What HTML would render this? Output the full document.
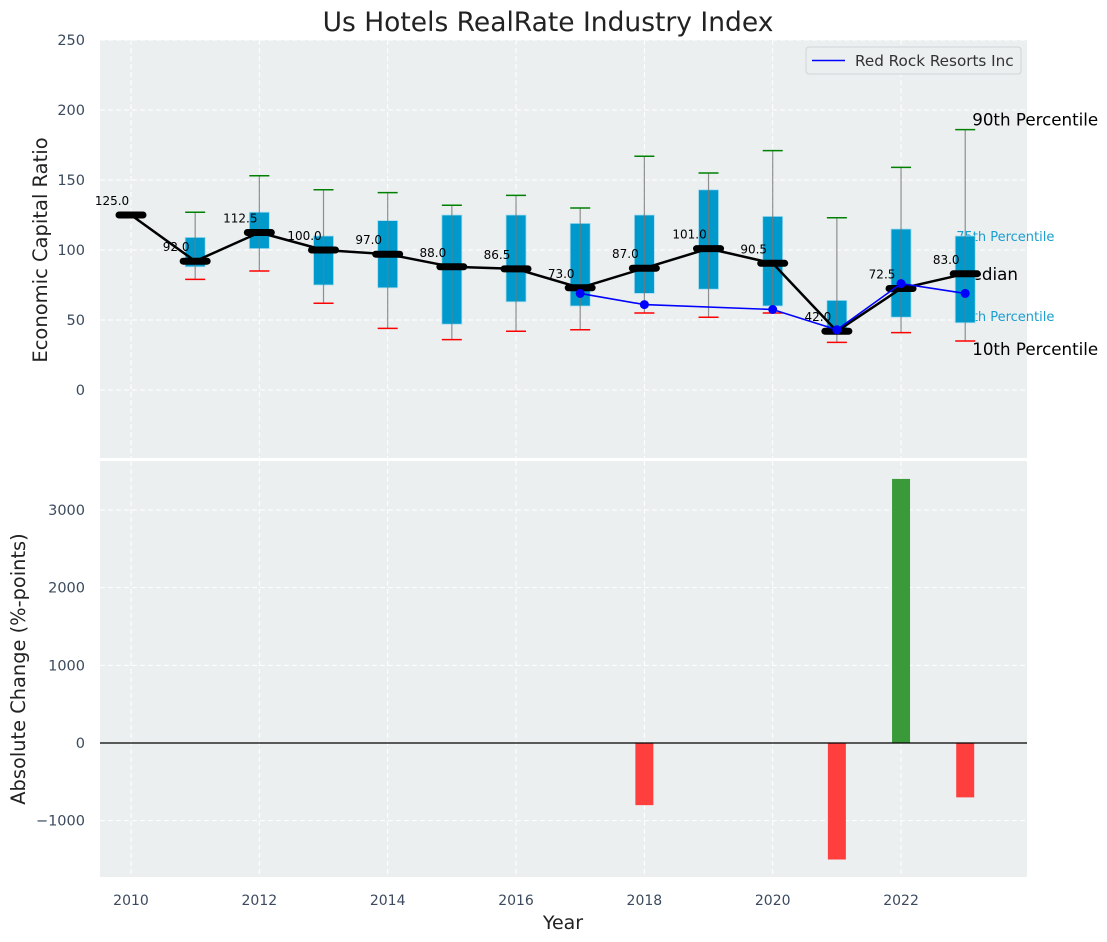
<!DOCTYPE html>
<html><head><meta charset="utf-8"><style>
body{margin:0;background:#fff;}
svg{display:block;font-family:"DejaVu Sans","Liberation Sans",sans-serif;}
</style></head><body>
<svg id="c" width="1107" height="942" xmlns="http://www.w3.org/2000/svg"></svg>
<script>
const years=[2010,2011,2012,2013,2014,2015,2016,2017,2018,2019,2020,2021,2022,2023];
const medians=[125,92,112.5,100,97,88,86.5,73,87,101,90.5,42,72.5,83];
const q1=[null,88,101,75,73,47,63,60,69,72,60,40,52,48];
const q3=[null,109,127,110,121,125,125,119,125,143,124,64,115,110];
const p10=[null,79,85,62,44,36,42,43,55,52,55,34,41,35];
const p90=[null,127,153,143,141,132,139,130,167,155,171,123,159,186];
const rrYears=[2017,2018,2020,2021,2022,2023];
const rrVals=[69,61,57.5,43,76,69];
const chgYears=[2018,2021,2022,2023];
const chgVals=[-800,-1500,3400,-700];
const yTicksTop=[0,50,100,150,200,250];
const yTicksBot=[-1000,0,1000,2000,3000];
const xTicks=[2010,2012,2014,2016,2018,2020,2022];

const svg=document.getElementById('c');
const NS='http://www.w3.org/2000/svg';
function mk(tag,attrs,parent,text){const e=document.createElementNS(NS,tag);for(const k in attrs)e.setAttribute(k,attrs[k]);if(text!==undefined)e.textContent=text;(parent||svg).appendChild(e);return e;}
const X0=100,X1=1027;
function x(v){return 131+(v-2010)*64.17;}
const T0=40,T1=458;
function yt(v){return 390-v*1.4;}
const B0=461,B1=877;
function yb(v){return 743-v*0.07767;}

let e=mk('rect',{x:X0,y:T0,width:X1-X0,height:T1-T0,fill:'#ebeff0'});

e=mk('rect',{x:X0,y:B0,width:X1-X0,height:B1-B0,fill:'#ebeff0'});


for(const t of xTicks){
 mk('line',{x1:x(t),x2:x(t),y1:T0,y2:T1,stroke:'#fff','stroke-dasharray':'5,3','stroke-width':1});
 mk('line',{x1:x(t),x2:x(t),y1:B0,y2:B1,stroke:'#fff','stroke-dasharray':'5,3','stroke-width':1});
 e=mk('text',{x:x(t),y:905,'text-anchor':'middle','font-size':14,fill:'#3b4a5e'},svg,String(t));
 
}
for(const t of yTicksTop){
 mk('line',{x1:X0,x2:X1,y1:yt(t),y2:yt(t),stroke:'#fff','stroke-dasharray':'5,3'});
 e=mk('text',{x:85,y:yt(t)+5,'text-anchor':'end','font-size':14.5,fill:'#3b4a5e'},svg,String(t));
 
}
for(const t of yTicksBot){
 mk('line',{x1:X0,x2:X1,y1:yb(t),y2:yb(t),stroke:'#fff','stroke-dasharray':'5,3'});
 e=mk('text',{x:85,y:yb(t)+5,'text-anchor':'end','font-size':14.5,fill:'#3b4a5e'},svg,String(t).replace('-','\u2212'));
 
}

const last=years.length-1, lx=x(years[last]);
e=mk('text',{x:lx+7,y:yt(p90[last])-4,'font-size':16.7,fill:'#000'},svg,'90th Percentile');

e=mk('text',{x:lx+7,y:yt(p10[last])+14,'font-size':16.7,fill:'#000'},svg,'10th Percentile');

e=mk('text',{x:lx-9,y:yt(q3[last])+5,'font-size':13,fill:'#1a9fd0'},svg,'75th Percentile');

e=mk('text',{x:lx-9,y:yt(q1[last])-2,'font-size':13,fill:'#1a9fd0'},svg,'25th Percentile');

e=mk('text',{x:lx-8,y:yt(medians[last])+6,'font-size':16.7,fill:'#000'},svg,'Median');


years.forEach((yr,i)=>{
 if(q1[i]===null)return;
 const cx=x(yr);
 let b=mk('rect',{x:cx-10,y:yt(q3[i]),width:20,height:yt(q1[i])-yt(q3[i]),fill:'#0099cc',stroke:'#a8dcef','stroke-width':0.8});
 
 let w=mk('line',{x1:cx,x2:cx,y1:yt(p90[i]),y2:yt(p10[i]),stroke:'#777','stroke-width':1.2,opacity:0.8});
 
 w=mk('line',{x1:cx-10,x2:cx+10,y1:yt(p90[i]),y2:yt(p90[i]),stroke:'green','stroke-width':1.5});
 
 w=mk('line',{x1:cx-10,x2:cx+10,y1:yt(p10[i]),y2:yt(p10[i]),stroke:'red','stroke-width':1.5});
 
});

e=mk('polyline',{points:years.map((yr,i)=>x(yr)+','+yt(medians[i])).join(' '),fill:'none',stroke:'#000','stroke-width':2.5});

years.forEach((yr,i)=>{
 const cx=x(yr),cy=yt(medians[i]);
 let m=mk('line',{x1:cx-12,x2:cx+12,y1:cy,y2:cy,stroke:'#000','stroke-width':7,'stroke-linecap':'round'});
 
 let t=mk('text',{x:cx-19,y:cy-10,'text-anchor':'middle','font-size':12,fill:'#000'},svg,medians[i].toFixed(1));
 
});

e=mk('polyline',{points:rrYears.map((yr,i)=>x(yr)+','+yt(rrVals[i])).join(' '),fill:'none',stroke:'blue','stroke-width':1.6});

rrYears.forEach((yr,i)=>{
 let c=mk('circle',{cx:x(yr),cy:yt(rrVals[i]),r:4.5,fill:'blue'});
 
});

const lg=mk('g',{});

mk('rect',{x:806,y:47,width:215,height:27,rx:3,fill:'#ebeff0',stroke:'#d0d4d8'},lg);
mk('line',{x1:812,x2:845,y1:60.5,y2:60.5,stroke:'blue','stroke-width':1.6},lg);
e=mk('text',{x:855,y:66,'font-size':15.2,fill:'#333'},lg,'Red Rock Resorts Inc');


chgYears.forEach((yr,i)=>{
 const v=chgVals[i],y0=yb(0),y1=yb(v);
 let r=mk('rect',{x:x(yr)-9,y:Math.min(y0,y1),width:18,height:Math.abs(y1-y0),fill:v>=0?'#3a9a3a':'#ff3e3e'});
 
});
e=mk('line',{x1:X0,x2:X1,y1:yb(0),y2:yb(0),stroke:'#000','stroke-width':1.2});


e=mk('text',{x:548,y:31,'text-anchor':'middle','font-size':26.5,fill:'#222'},svg,'Us Hotels RealRate Industry Index');

e=mk('text',{x:0,y:0,transform:'translate(47,250) rotate(-90)','text-anchor':'middle','font-size':19.5,fill:'#222'},svg,'Economic Capital Ratio');

e=mk('text',{x:0,y:0,transform:'translate(25,669) rotate(-90)','text-anchor':'middle','font-size':19.4,fill:'#222'},svg,'Absolute Change (%-points)');

e=mk('text',{x:563,y:929,'text-anchor':'middle','font-size':19,fill:'#222'},svg,'Year');

</script>
</body></html>
